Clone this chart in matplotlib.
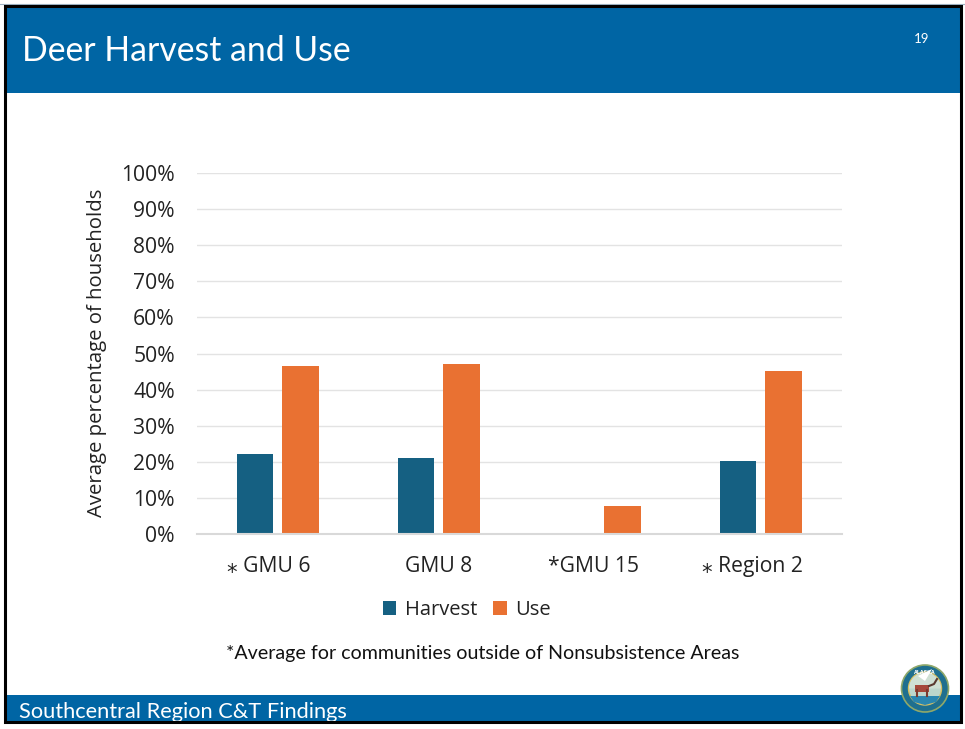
import numpy as np
import matplotlib
matplotlib.use('Agg')
import matplotlib.pyplot as plt
from matplotlib.patches import Rectangle, Circle, Polygon, Wedge
from matplotlib.transforms import ScaledTranslation

categories = ['⁎ GMU 6', 'GMU 8', '*GMU 15', '⁎ Region 2']
harvest = [22.2, 21, 0, 20.2]
use = [46.5, 47.2, 7.7, 45.2]
y_ticks = [0, 10, 20, 30, 40, 50, 60, 70, 80, 90, 100]

BLUE = '#0065A4'
W, H = 965, 729

fig = plt.figure(figsize=(W/100, H/100), dpi=100, facecolor='white')

# page layer in pixel coords, y going down like the screenshot
page = fig.add_axes([0, 0, 1, 1])
page.set_xlim(0, W)
page.set_ylim(H, 0)
page.axis('off')

page.add_patch(Rectangle((5, 7), 955, 85.5, fc=BLUE, ec='none'))
page.add_patch(Rectangle((5, 695), 955, 27, fc=BLUE, ec='none'))
page.add_patch(Rectangle((5, 6), 956, 716, fc='none', ec='black', lw=2.2, zorder=5))
page.plot([0, W], [4, 4], color='#9fb3c4', lw=0.8)

page.text(22, 51, 'Deer Harvest and Use', color='white', fontsize=24.3,
          family='Lato', va='center', ha='left')
page.text(921.5, 39, '19', color='white', fontsize=9.5, family='Lato', va='center', ha='center')
page.text(19, 712.5, 'Southcentral Region C&T Findings', color='white', fontsize=15.7,
          family='Lato', va='center', ha='left')
page.text(483, 654, '*Average for communities outside of Nonsubsistence Areas',
          color='#111111', fontsize=14.15, family='Lato', va='center', ha='center')

# state seal, rough version
page.add_patch(Circle((925, 688.5), 23.5, fc='#1f6f8f', ec='#8fa86a', lw=1.2, zorder=6))
page.add_patch(Circle((925, 688.5), 16.5, fc='#bcd6cc', ec='#d8c060', lw=1, zorder=7))
page.add_patch(Wedge((925, 688.5), 16, 180, 360, fc='#cfe0d4', ec='none', zorder=7))
page.add_patch(Polygon([[910, 696], [940, 696], [936, 702], [925, 705], [914, 702]],
                       fc='#2a86b0', ec='none', zorder=8))
page.add_patch(Polygon([[918, 676], [926, 672], [932, 669], [928, 676], [925, 681]],
                       fc='white', ec='none', zorder=8))
page.add_patch(Rectangle((915, 685), 14, 7, fc='#a5483a', ec='none', zorder=9))
page.plot([917, 917], [690, 696], color='#7a3a30', lw=1.5, zorder=9)
page.plot([927, 927], [690, 696], color='#7a3a30', lw=1.5, zorder=9)
page.plot([929, 934, 937], [686, 684, 679], color='#5a3a30', lw=1.5, zorder=9)
page.text(925, 672, 'ALASKA', color='white', fontsize=3.5, weight='bold',
          ha='center', va='center', zorder=9)

# chart
ax = fig.add_axes([197/W, 1 - 534/H, (841.5 - 197)/W, (534 - 173)/H])
ax.patch.set_alpha(0)
x = np.arange(len(categories))
bar_w = 36.5/161.25
off = 22.75/161.25
ax.bar(x - off, harvest, bar_w, color='#156082', label='Harvest')
ax.bar(x + off, use, bar_w, color='#E97132', label='Use')

ax.set_xlim(-0.5, 3.5)
ax.set_ylim(0, 100)
ax.set_yticks(y_ticks)
ax.set_yticklabels([f'{v}%' for v in y_ticks], family='Open Sans', fontsize=15.2, color='#222222')
ax.set_xticks(x)
ax.set_xticklabels(categories, family=['Open Sans', 'DejaVu Sans'], fontsize=15.2, color='#222222')
ax.tick_params(axis='both', length=0)
ax.tick_params(axis='x', pad=16)
ax.tick_params(axis='y', pad=16)
ax.grid(axis='y', color='#E3E3E3', lw=1)
ax.set_axisbelow(True)
for s in ['top', 'right', 'left']:
    ax.spines[s].set_visible(False)
ax.spines['bottom'].set_color('#D9D9D9')
ax.spines['bottom'].set_linewidth(1.5)

# starred labels sit left of their category centre in the original
for lab, px in zip(ax.get_xticklabels(), [-9, 0, -6, -9]):
    lab.set_transform(lab.get_transform() + ScaledTranslation(px/100, 0, fig.dpi_scale_trans))

page.text(97.5, 353, 'Average percentage of households', rotation=90, family='Open Sans',
          fontsize=14.65, color='#222222', va='center', ha='center')

ax.legend(loc='center', bbox_to_anchor=((467 - 197)/645, (534 - 610)/361), ncol=2, frameon=False,
          prop={'family': 'Open Sans', 'size': 14.5}, labelcolor='#222222', handlelength=0.68,
          handleheight=0.68, handletextpad=0.42, columnspacing=0.8)

fig.savefig('out.png', dpi=100)
